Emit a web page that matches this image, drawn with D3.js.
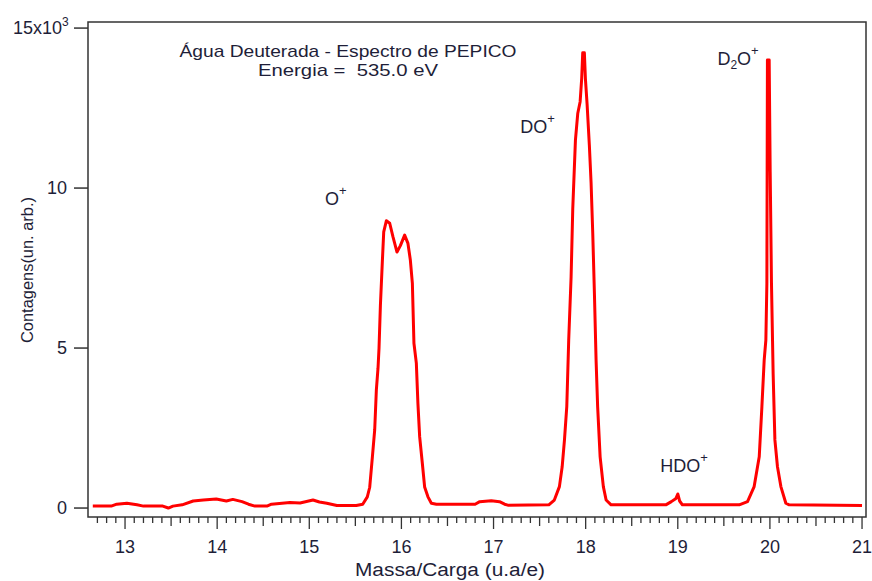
<!DOCTYPE html>
<html>
<head>
<meta charset="utf-8">
<script src="https://cdn.jsdelivr.net/npm/d3@7"></script>
<style>
  body { margin: 0; background: #fff; }
  text { font-family: "Liberation Sans", Arial, sans-serif; fill: #1e1e38; }
</style>
</head>
<body>
<div id="grafico"></div>
<script>
// massa/carga (u.a/e)
let massas = [
  12.65, 12.85, 12.91, 13.02, 13.13, 13.20, 13.41, 13.47, 13.52, 13.62,
  13.74, 13.85, 13.99, 14.10, 14.17, 14.27, 14.34, 14.41, 14.54, 14.59,
  14.79, 14.90, 15.04, 15.11, 15.19, 15.30, 15.51, 15.58, 15.63, 15.656,
  15.685, 15.71, 15.728, 15.746, 15.757, 15.772, 15.793, 15.808, 15.837, 15.873,
  15.908, 15.952, 15.989, 16.035, 16.071, 16.097, 16.119, 16.136, 16.162, 16.179,
  16.198, 16.227, 16.252, 16.288, 16.325, 16.38, 16.80, 16.85, 16.975, 17.065,
  17.12, 17.155, 17.60, 17.66, 17.715, 17.745, 17.77, 17.795, 17.816, 17.842,
  17.86, 17.889, 17.914, 17.94, 17.957, 17.968, 17.986, 17.997, 18.016, 18.04,
  18.059, 18.077, 18.095, 18.113, 18.13, 18.157, 18.192, 18.222, 18.276, 18.87,
  18.93, 18.98, 19.0, 19.02, 19.05, 19.667, 19.757, 19.829, 19.884, 19.913,
  19.938, 19.956, 19.967, 19.973, 19.992, 20.003, 20.017, 20.035, 20.054, 20.082,
  20.119, 20.173, 20.209, 21.0
]

// contagens (un. arb.)
let contagens = [
  60, 60, 120, 150, 100, 60, 60, 0, 60, 100,
  220, 250, 280, 220, 270, 200, 120, 60, 60, 120,
  170, 160, 250, 190, 150, 80, 80, 120, 350, 650,
  1600, 2440, 3690, 4370, 5000, 6340, 7700, 8630, 8980, 8900,
  8480, 8000, 8200, 8530, 8270, 7750, 7020, 5150, 4530, 3280,
  2230, 1400, 660, 350, 150, 120, 120, 200, 230, 200,
  120, 90, 100, 250, 670, 1290, 2130, 3170, 5250, 7230,
  9360, 11500, 12330, 12700, 13430, 14230, 14230, 13430, 12600, 11340,
  10150, 8580, 6710, 4630, 3170, 1600, 670, 250, 100, 100,
  200, 300, 440, 220, 100, 100, 200, 670, 1600, 3170,
  4630, 5250, 7020, 14000, 14000, 10500, 7020, 4200, 2130, 1290,
  670, 150, 100, 80
]

let ticksX = [13, 14, 15, 16, 17, 18, 19, 20, 21]
let ticksY = [0, 5000, 10000, 15000]

// rotulos dos picos: [nome, subscrito, resto, massa, contagem]
let picos = [
  ["O", "", "", 15.17, 9470],
  ["DO", "", "", 17.29, 11720],
  ["D", "2", "O", 19.43, 13840],
  ["HDO", "", "", 18.81, 1125]
]

let titulo = ["Água Deuterada - Espectro de PEPICO", "Energia =\u00a0 535.0 eV"]

let largura = 872, altura = 581

let svg = d3.select("#grafico")
            .append("svg")
            .attr('width', largura)
            .attr('height', altura)

let x = d3.scaleLinear().domain([12.598, 21.043]).range([88, 866])
let y = d3.scaleLinear().domain([-280, 15190]).range([517, 22])

// moldura
svg.append("rect")
   .attr('x', 88).attr('y', 22)
   .attr('width', 778).attr('height', 495)
   .attr('fill', "none")
   .attr('stroke', "#333")
   .attr('stroke-width', 1.5)

// ticks menores do eixo x
let menores = d3.range(127, 211).map(d => d / 10)
svg.append("g").selectAll("line")
   .data(menores).enter()
   .append("line")
   .attr('x1', d => x(d)).attr('x2', d => x(d))
   .attr('y1', 517)
   .attr('y2', d => {
       let r = Math.round(d * 10) % 10
       if (r == 0) return 529
       if (r == 5) return 526
       return 523
   })
   .attr('stroke', "#333")
   .attr('stroke-width', 1.3)

svg.append("g").selectAll("text")
   .data(ticksX).enter()
   .append("text")
   .attr('x', d => x(d))
   .attr('y', 553)
   .attr('text-anchor', "middle")
   .attr('font-size', "18px")
   .text(d => d)

// eixo y
svg.append("g").selectAll("line")
   .data(ticksY).enter()
   .append("line")
   .attr('x1', 74).attr('x2', 88)
   .attr('y1', d => y(d)).attr('y2', d => y(d))
   .attr('stroke', "#333")
   .attr('stroke-width', 1.5)

svg.append("g").selectAll("text")
   .data(ticksY).enter()
   .append("text")
   .attr('x', d => d == 15000 ? 62 : 67)
   .attr('y', d => y(d) + 6)
   .attr('text-anchor', "end")
   .attr('font-size', "18px")
   .text(d => d == 15000 ? "15x10" : d / 1000)

svg.append("text")
   .attr('x', 62).attr('y', y(15000) - 2)
   .attr('font-size', "12px")
   .text("3")

svg.append("text")
   .attr('transform', "translate(33,270) rotate(-90)")
   .attr('text-anchor', "middle")
   .attr('font-size', "16px")
   .attr('textLength', 146)
   .attr('lengthAdjust', "spacingAndGlyphs")
   .text("Contagens(un. arb.)")

svg.append("text")
   .attr('x', 450).attr('y', 576)
   .attr('text-anchor', "middle")
   .attr('font-size', "18px")
   .attr('textLength', 190)
   .attr('lengthAdjust', "spacingAndGlyphs")
   .text("Massa/Carga (u.a/e)")

// titulo
let largTitulo = [337, 180]
svg.selectAll(".titulo")
   .data(titulo).enter()
   .append("text")
   .attr('class', "titulo")
   .attr('x', 348)
   .attr('y', (d, i) => 57 + i * 19)
   .attr('text-anchor', "middle")
   .attr('font-size', "17px")
   .attr('textLength', (d, i) => largTitulo[i])
   .attr('lengthAdjust', "spacingAndGlyphs")
   .text(d => d)

// espectro
let linha = d3.line()
              .x((d, i) => x(massas[i]))
              .y(d => y(d))

svg.append("path")
   .datum(contagens)
   .attr('fill', "none")
   .attr('stroke', "#ff0000")
   .attr('stroke-width', 3)
   .attr('stroke-linejoin', "round")
   .attr('d', linha)

// rotulos dos picos
let rot = svg.selectAll(".pico")
             .data(picos).enter()
             .append("text")
             .attr('class', "pico")
             .attr('x', d => x(d[3]))
             .attr('y', d => y(d[4]))
             .attr('font-size', "18px")

rot.append("tspan").text(d => d[0])
rot.append("tspan")
   .attr('font-size', "12px")
   .attr('dy', d => d[1] ? 4 : 0)
   .text(d => d[1])
rot.append("tspan")
   .attr('dy', d => d[1] ? -4 : 0)
   .text(d => d[2])
rot.append("tspan")
   .attr('font-size', "13px")
   .attr('dy', -10)
   .text("+")
</script>
</body>
</html>
